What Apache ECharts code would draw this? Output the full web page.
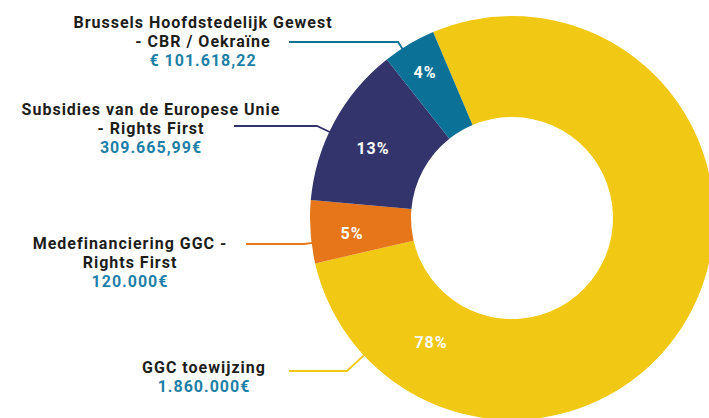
<!DOCTYPE html>
<html>
<head>
<meta charset="utf-8">
<script src="https://cdn.jsdelivr.net/npm/echarts@6/dist/echarts.min.js"></script>
<style>
html,body{margin:0;padding:0;background:#fff;}
#chart{width:709px;height:418px;}
#chart text{letter-spacing:1px;}
</style>
</head>
<body>
<div id="chart"></div>
<script>
// ---- data ----
const categories = [
  'GGC toewijzing',
  'Medefinanciering GGC -\nRights First',
  'Subsidies van de Europese Unie\n- Rights First',
  'Brussels Hoofdstedelijk Gewest\n- CBR / Oekraïne'
];
const amounts = [1860000, 120000, 309665.99, 101618.22];
const amountLabels = ['1.860.000€', '120.000€', '309.665,99€', '€ 101.618,22'];
const colors = ['#F1C813', '#E67619', '#32346B', '#0B7197'];

// ---- layout (positions of chart and label texts) ----
const CX = 512, CY = 218, R0 = 101, R = 202;
const outLabelPos = [
  {x: 204, y: 377, lineY: 371, startX: 289, turnX: 347},
  {x: 130, y: 262, lineY: 244, startX: 246, turnX: 304},
  {x: 151, y: 128, lineY: 126, startX: 234, turnX: 317},
  {x: 203, y: 41,  lineY: 42,  startX: 289, turnX: 398}
];
const pctLabelPos = [
  {x: 431, y: 342},
  {x: 352, y: 233},
  {x: 373, y: 148},
  {x: 425, y: 72}
];

const data = categories.map((c, i) => ({name: c, value: amounts[i], itemStyle: {color: colors[i]}}));

const chart = echarts.init(document.getElementById('chart'), null, {renderer: 'svg'});
chart.setOption({
  animation: false,
  series: [
    {
      type: 'pie',
      center: [CX, CY],
      radius: [R0, R],
      startAngle: 113,
      clockwise: true,
      avoidLabelOverlap: false,
      percentPrecision: 0,
      data: data,
      itemStyle: {borderWidth: 0},
      label: {
        show: true,
        position: 'outside',
        align: 'center',
        formatter: p => '{n|' + p.name + '}\n{v|' + amountLabels[p.dataIndex] + '}',
        rich: {
          n: {fontFamily: 'Roboto', fontSize: 16, fontWeight: 'bold', color: '#1d1d1b', lineHeight: 19, align: 'center'},
          v: {fontFamily: 'Roboto', fontSize: 16, fontWeight: 'bold', color: '#1E7FA7', lineHeight: 19, align: 'center'}
        }
      },
      labelLine: {show: true, length: 10, length2: 40, lineStyle: {width: 1.8}},
      labelLayout: function (params) {
        const L = outLabelPos[params.dataIndex];
        const dx = L.turnX - CX, dy = L.lineY - CY, d = Math.hypot(dx, dy);
        const ex = CX + dx * (R - 1) / d, ey = CY + dy * (R - 1) / d;
        return {
          x: L.x, y: L.y, align: 'center', verticalAlign: 'middle',
          labelLinePoints: [[ex, ey], [L.turnX, L.lineY], [L.startX, L.lineY]]
        };
      }
    },
    {
      type: 'pie',
      center: [CX, CY],
      radius: [R0, R],
      startAngle: 113,
      clockwise: true,
      avoidLabelOverlap: false,
      percentPrecision: 0,
      silent: true,
      data: categories.map((c, i) => ({name: c, value: amounts[i]})),
      itemStyle: {color: 'rgba(0,0,0,0)', borderWidth: 0},
      label: {
        show: true,
        position: 'inside',
        formatter: p => p.percent + '%',
        fontFamily: 'Roboto',
        fontSize: 16,
        fontWeight: 'bold',
        color: '#ffffff'
      },
      labelLine: {show: false},
      labelLayout: function (params) {
        const P = pctLabelPos[params.dataIndex];
        return {x: P.x, y: P.y, align: 'center', verticalAlign: 'middle'};
      }
    }
  ]
});
</script>
</body>
</html>
